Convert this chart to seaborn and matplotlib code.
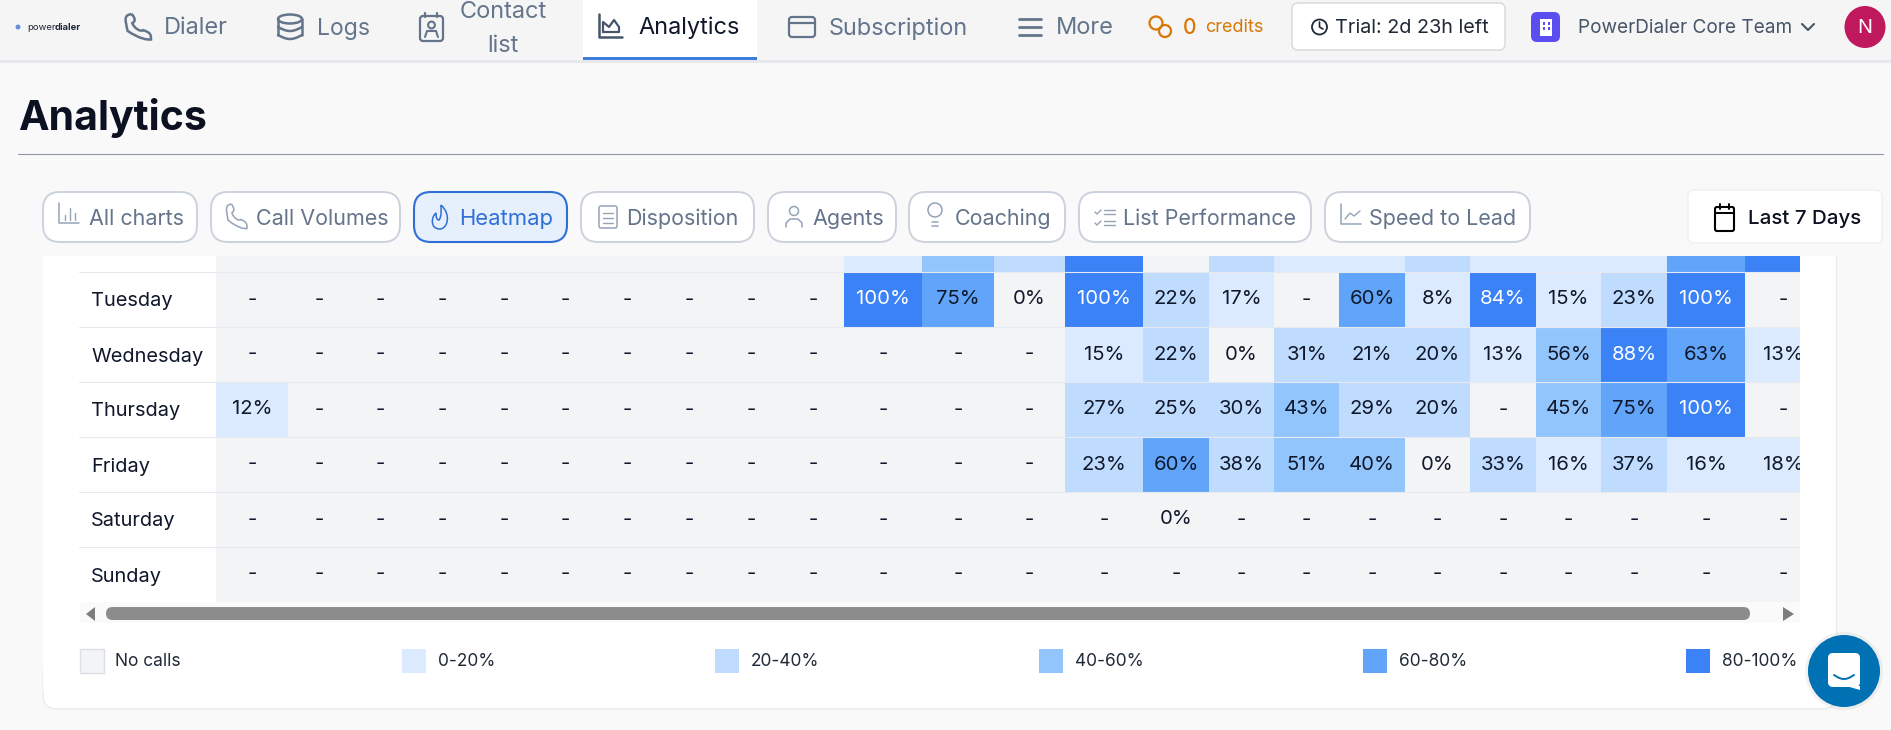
import numpy as np
import matplotlib
matplotlib.use("Agg")
import matplotlib.pyplot as plt
from matplotlib.colors import BoundaryNorm, ListedColormap
from matplotlib.patches import Circle, Ellipse, FancyBboxPatch, PathPatch, Polygon, Rectangle
from matplotlib.path import Path
import seaborn as sns

# Heatmap values, answer rate per hour slot. None means no calls in that slot
days = ["Monday", "Tuesday", "Wednesday", "Thursday", "Friday", "Saturday", "Sunday"]
monday = [None] * 10 + [15, 50, 30, 100, None, 25, 10, 15, 30, 12, 14, 10, 70, 90]  # hidden by scroll, only colours show
tuesday = [None] * 10 + [100, 75, 0, 100, 22, 17, None, 60, 8, 84, 15, 23, 100, None]
wednesday = [None] * 13 + [15, 22, 0, 31, 21, 20, 13, 56, 88, 63, 13]
thursday = [12] + [None] * 12 + [27, 25, 30, 43, 29, 20, None, 45, 75, 100, None]
friday = [None] * 13 + [23, 60, 38, 51, 40, 0, 33, 16, 37, 16, 18]
saturday = [None] * 14 + [0] + [None] * 9
sunday = [None] * 24

legend_labels = ["No calls", "0-20%", "20-40%", "40-60%", "60-80%", "80-100%"]
legend_colors = ["#f3f4f6", "#dbeafe", "#bfdbfe", "#93c5fd", "#60a5fa", "#3b82f6"]
bin_edges = [-2, 0.5, 20, 40, 60, 80, 101]

pill_labels = ["All charts", "Call Volumes", "Heatmap", "Disposition", "Agents",
               "Coaching", "List Performance", "Speed to Lead"]

W, H = 1891, 730
FONT = "Inter"
DARK = "#0f172a"
SLATE = "#64748b"
NAV_Y = 26

sns.set_theme(style="white")
plt.rcParams["font.family"] = [FONT, "DejaVu Sans"]

fig = plt.figure(figsize=(W / 100, H / 100), dpi=100, facecolor="#f9f9fa")

# full size axes in pixel coordinates for the page around the chart
page = fig.add_axes([0, 0, 1, 1], zorder=0)
page.set_xlim(0, W)
page.set_ylim(H, 0)
page.axis("off")


def txt(x, y, s, px, color=DARK, weight="normal", ha="left"):
    return page.text(x, y, s, fontsize=px * 0.72, color=color, fontweight=weight,
                     ha=ha, va="center_baseline", family=[FONT, "DejaVu Sans"], zorder=4)


def box(x0, y0, x1, y1, r, fc, ec="none", lw=1.0, z=1):
    page.add_patch(FancyBboxPatch((x0, y0), x1 - x0, y1 - y0, boxstyle=f"round,pad=0,rounding_size={r}",
                                  fc=fc, ec=ec, lw=lw, zorder=z))


def rect(x0, y0, x1, y1, fc, ec="none", lw=1.0, z=1):
    page.add_patch(Rectangle((x0, y0), x1 - x0, y1 - y0, fc=fc, ec=ec, lw=lw, zorder=z))


def stroke(xs, ys, color=SLATE, lw=1.6, z=3):
    page.plot(xs, ys, color=color, lw=lw, solid_capstyle="round", zorder=z)


def outline(x0, y0, x1, y1, r, color=SLATE, lw=1.6):
    box(x0, y0, x1, y1, r, "none", ec=color, lw=lw, z=3)


def chart_icon(x, y, size, color, lw=1.1):
    stroke([x, x, x + size], [y, y + size, y + size], color, lw)


def phone(x0, y0, x1, y1, color=SLATE, lw=1.8):
    w, h = x1 - x0, y1 - y0
    verts = [(x0 + .25 * w, y0), (x0 - .05 * w, y0 + .05 * h), (x0, y0 + .2 * h), (x0 + .1 * w, y0 + .65 * h),
             (x0 + .55 * w, y0 + .95 * h), (x0 + .85 * w, y1), (x1, y0 + .98 * h), (x1, y0 + .8 * h),
             (x1, y0 + .72 * h), (x0 + .7 * w, y0 + .62 * h), (x0 + .6 * w, y0 + .7 * h),
             (x0 + .35 * w, y0 + .55 * h), (x0 + .28 * w, y0 + .35 * h), (x0 + .4 * w, y0 + .28 * h),
             (x0 + .4 * w, y0 + .2 * h), (x0 + .3 * w, y0 + .05 * h), (x0 + .25 * w, y0)]
    codes = [Path.MOVETO] + [Path.CURVE4] * 15 + [Path.LINETO]
    page.add_patch(PathPatch(Path(verts, codes), fc="none", ec=color, lw=lw, zorder=3))


# top navigation
rect(0, 0, W, 60, "#f5f5f5")
rect(0, 60, W, 63, "#e6e8ec")
rect(583, 0, 757, 60, "white", z=2)
rect(583, 57, 757, 60, "#3b7ddd", z=3)

# logo
page.add_patch(Circle((18, 27), 2.5, fc="#6b8fd6", ec="none"))
txt(27, NAV_Y, "power", 9.5, "#1f2937")
txt(55, NAV_Y, "dialer", 9.5, "#1f2937", weight="bold")

phone(125, 14, 151, 40)
txt(164, NAV_Y, "Dialer", 23.5, SLATE)
# logs cylinder
page.add_patch(Ellipse((290, 19), 24, 9, fc="none", ec=SLATE, lw=1.8, zorder=3))
stroke([278, 278], [19, 35], lw=1.8)
stroke([302, 302], [19, 35], lw=1.8)
stroke(np.linspace(278, 302, 20), 27 + 4 * np.sin(np.linspace(0, np.pi, 20)), lw=1.8)
stroke(np.linspace(278, 302, 20), 35 + 4 * np.sin(np.linspace(0, np.pi, 20)), lw=1.8)
txt(317, NAV_Y, "Logs", 23, SLATE)
# contact card
outline(420, 16, 443, 41, 3)
stroke([425, 425], [13, 17])
stroke([437, 437], [13, 17])
page.add_patch(Circle((431.5, 25), 3.4, fc="none", ec=SLATE, lw=1.5, zorder=3))
stroke([425, 427, 436, 438], [37, 31, 31, 37], lw=1.5)
txt(503, 10, "Contact", 23.5, SLATE, ha="center")
txt(503, 44, "list", 23.5, SLATE, ha="center")
# analytics icon
stroke([599, 599, 622], [14, 37, 37], "#475569", 1.8)
stroke([603, 603, 609, 614, 619, 619, 603], [32, 22, 27, 20, 27, 32, 32], "#475569", 1.6)
txt(638, 25, "Analytics", 23.5, DARK)
outline(789, 17, 815, 37, 3)
stroke([789, 815], [23, 23])
txt(829, NAV_Y, "Subscription", 23.5, SLATE)
stroke([1019, 1041], [19, 19], lw=2)
stroke([1019, 1041], [27, 27], lw=2)
stroke([1019, 1041], [35, 35], lw=2)
txt(1056, NAV_Y, "More", 23.5, SLATE)

# credits, trial, team, avatar
ORANGE = "#d97706"
page.add_patch(Circle((1156, 23), 6.5, fc="none", ec=ORANGE, lw=1.6, zorder=3))
page.add_patch(Circle((1165, 31), 6, fc="none", ec=ORANGE, lw=1.6, zorder=3))
txt(1183, NAV_Y, "0", 21, ORANGE, weight="medium")
txt(1205, NAV_Y, "credits", 18, ORANGE)
box(1292, 3, 1505, 50, 6, "white", ec="#d5d8de")
page.add_patch(Circle((1319.5, 27), 7.5, fc="none", ec="#1f2937", lw=1.3, zorder=3))
stroke([1319.5, 1319.5, 1323], [22, 27, 29], "#1f2937", 1.2)
txt(1335, NAV_Y, "Trial: 2d 23h left", 19.8, "#1f2937")
box(1531, 12, 1560, 42, 6, "#5b4df0")
rect(1540, 19, 1552, 36, "white", z=3)
for wx in (1543, 1548):
    for wy in (22, 27):
        rect(wx, wy, wx + 2, wy + 2.5, "#5b4df0", z=4)
txt(1578, NAV_Y, "PowerDialer Core Team", 19, "#475569")
stroke([1802, 1808, 1814], [24, 30, 24], "#475569", 1.5)
page.add_patch(Ellipse((1865, 27), 41, 42, fc="#c0185c", ec="none", zorder=2))
txt(1865, NAV_Y, "N", 20, "white", ha="center")

# title
txt(18, 114, "Analytics", 41, "#0b1120", weight="bold")
page.plot([18, 1883], [153.5, 153.5], color="#8f98a8", lw=0.8)

# tab pills: box left/right and text left edge
pill_x = [(43, 197, 89), (211, 400, 256), (414, 567, 459), (581, 754, 626), (768, 896, 812),
          (909, 1065, 955), (1079, 1311, 1123), (1325, 1530, 1369)]
for name, (x0, x1, tx) in zip(pill_labels, pill_x):
    active = name == "Heatmap"
    box(x0, 192, x1, 242, 17, "#e6f0fd" if active else "white", ec="#2f6fd6" if active else "#cbd2dc",
        lw=1.5 if active else 1.4)
    txt(tx, 217, name, 22 if active else 21.5, "#2f6fd6" if active else SLATE)
# small icons in the pills
PALE = "#94a3b8"
chart_icon(59, 203, 20, PALE)
for bx, top in [(65, 215), (70, 208), (75, 213)]:
    stroke([bx, bx], [top, 220], PALE, 1)
phone(226, 204, 247, 229, PALE, 1.1)
flame = [(441, 205), (452, 215), (447, 229), (440, 229), (430, 229), (431, 217), (436, 213), (436, 218), (437, 220), (439, 220),
         (442, 216), (441, 210), (441, 205)]
flame_codes = [Path.MOVETO] + [Path.CURVE4] * 12
page.add_patch(PathPatch(Path(flame, flame_codes), fc="none", ec="#2f6fd6", lw=1.1, zorder=3))
outline(599, 206, 617, 228, 2, PALE, 1.1)
for ly in (213, 218, 223):
    stroke([603, 613], [ly, ly], PALE, 1)
page.add_patch(Circle((794, 211), 4.5, fc="none", ec=PALE, lw=1.1, zorder=3))
stroke([786, 786, 790, 798, 802, 802], [227, 223, 219, 219, 223, 227], PALE, 1.1)
page.add_patch(Circle((935, 210), 7, fc="none", ec=PALE, lw=1.1, zorder=3))
stroke([932, 938], [222, 222], PALE, 1.1)
stroke([932, 938], [226, 226], PALE, 1.1)
# list performance icon, two ticks and lines
for ly in (212, 223):
    stroke([1095, 1097, 1101], [ly, ly + 2, ly - 2], PALE, 1)
    stroke([1104, 1115], [ly - 2, ly - 2], PALE, 1)
    stroke([1104, 1115], [ly + 2, ly + 2], PALE, 1)
chart_icon(1341, 204, 20, PALE)
stroke([1345, 1350, 1354, 1360], [219, 213, 216, 211], PALE, 1)
box(1688, 190, 1882, 243, 6, "white", ec="#eef0f3")
outline(1715, 207, 1734, 231, 2, "black", 1.5)
stroke([1715, 1734], [213, 213], "black", 1.4)
stroke([1720, 1720], [204, 209], "black", 1.4)
stroke([1729, 1729], [204, 209], "black", 1.4)
txt(1748, 217, "Last 7 Days", 20.5, "#0b1120", weight="medium")

# chart card, table top is cut by the scroll position
rect(43, 256, 1836, 690, "white", z=1)
box(43, 660, 1836, 709, 14, "white", ec="#e8eaee", lw=1, z=0.9)
rect(44, 660, 1835, 690, "white", z=1)
page.plot([1836, 1836], [256, 695], color="#eceef1", lw=1, zorder=1.1)

# only the descender of this label shows under the page background
monday_label = txt(91, 243, days[0], 20)
monday_label.set_clip_path(Rectangle((43, 256), 1793, 40, transform=page.transData))
monday_label.set_clip_on(True)

# row lines in the label column
rows_px = [272 + 55 * i for i in range(0, 6)]
for ry in rows_px:
    page.plot([79, 216], [ry, ry], color="#e6eaf0", lw=0.8, zorder=2)

# scrollbar
rect(80, 602, 1800, 623, "#fafafa", z=2)
box(106, 607, 1750, 620, 6.5, "#8c8c8c", z=3)
page.add_patch(Polygon([(95, 607), (95, 621), (86, 614)], closed=True, fc="#7d7d7d", ec="none", zorder=3))
page.add_patch(Polygon([(1783, 607), (1783, 621), (1794, 614)], closed=True, fc="#7d7d7d", ec="none", zorder=3))

# legend
legend_swatch_x = [80, 402, 715, 1039, 1363, 1686]
for name, color, sx in zip(legend_labels, legend_colors, legend_swatch_x):
    rect(sx, 649, sx + 24, 673, color, ec="#dcdfe4" if name == "No calls" else "none", z=2)
    txt(sx + 35 if name == "No calls" else sx + 36, 660, name, 17.3, "#1f2937")

# chat bubble
page.add_patch(Ellipse((1844, 671), 78, 78, fc="#000000", alpha=0.05, ec="none", zorder=4))
page.add_patch(Ellipse((1844, 671), 72, 72, fc="#0071b2", ec="none", zorder=5))
box(1828, 653, 1860, 687, 5, "white", z=6)
page.add_patch(Polygon([(1846, 686), (1860, 686), (1860, 690)], closed=True, fc="white", ec="none", zorder=6))
stroke(np.linspace(1834, 1854, 20), 675 + 4 * np.sin(np.linspace(0, np.pi, 20)), "#0071b2", 1.4, 7)

# heat table, columns are not equal width so the x scale maps slot index to pixels
col_edges_px = [216, 288, 350, 411, 474, 535, 596, 658, 720, 782, 844, 922, 994, 1065, 1143, 1209, 1274,
                1339, 1405, 1470, 1536, 1601, 1667, 1745, 1821]
slot_idx = np.arange(len(col_edges_px))
TABLE_LEFT, TABLE_RIGHT, TABLE_TOP, TABLE_BOTTOM = 216, 1800, 256, 602
ROW_H = 55

values = np.array([monday, tuesday, wednesday, thursday, friday, saturday, sunday], dtype=float)
grid = np.nan_to_num(values, nan=-1)  # seaborn skips the text of masked cells, no calls needs a dash
cell_text = np.where(np.isnan(values), "-", np.char.add(np.nan_to_num(values).astype(int).astype(str), "%"))

ax = fig.add_axes([TABLE_LEFT / W, 1 - TABLE_BOTTOM / H, (TABLE_RIGHT - TABLE_LEFT) / W,
                   (TABLE_BOTTOM - TABLE_TOP) / H], zorder=2)
ax.patch.set_alpha(0)
cmap = ListedColormap(legend_colors)
norm = BoundaryNorm(bin_edges, cmap.N)
sns.heatmap(grid, ax=ax, cmap=cmap, norm=norm, cbar=False, annot=cell_text, fmt="",
            annot_kws={"fontsize": 20.3 * 0.72, "family": [FONT, "DejaVu Sans"], "va": "center"},
            xticklabels=False, yticklabels=days)

ax.set_xscale("function", functions=(lambda v: np.interp(v, slot_idx, col_edges_px),
                                     lambda p: np.interp(p, col_edges_px, slot_idx)))
ax.set_xlim(0, np.interp(TABLE_RIGHT, col_edges_px, slot_idx))
ax.set_ylim(7, 1 - (272 - TABLE_TOP) / ROW_H)
ax.set_xticks([])
ax.minorticks_off()
ax.hlines(np.arange(1, 7), 0, 24, color="#e6eaf0", lw=0.8)

for t in ax.texts:
    t.set_clip_on(True)
    t.set_color("white" if t.get_text() in ("100%", "84%", "88%") else DARK)

ax.tick_params(axis="y", length=0, pad=(TABLE_LEFT - 91) * 0.72)
for lab in ax.get_yticklabels():
    lab.set_rotation(0)
    lab.set_ha("left")
    lab.set_va("center_baseline")
    lab.set_fontsize(20 * 0.72)
    lab.set_color(DARK)

fig.savefig("out.png", dpi=100, facecolor=fig.get_facecolor())
